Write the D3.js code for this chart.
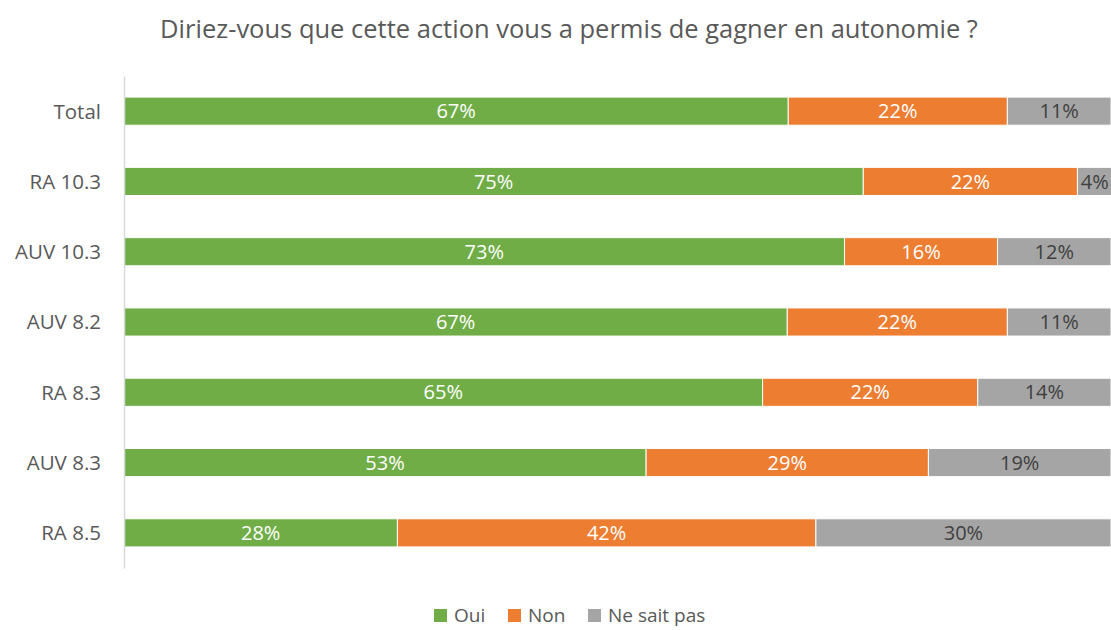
<!DOCTYPE html>
<html>
<head>
<meta charset="utf-8">
<script src="https://cdn.jsdelivr.net/npm/d3@7"></script>
<style>
  body { margin: 0; background: #fff; }
  svg text { font-family: "Open Sans", "DejaVu Sans", sans-serif; }
</style>
</head>
<body>
<div id="chart"></div>
<script>
const title = 'Diriez-vous que cette action vous a permis de gagner en autonomie ?';
const categories = ['Total', 'RA 10.3', 'AUV 10.3', 'AUV 8.2', 'RA 8.3', 'AUV 8.3', 'RA 8.5'];
const seriesNames = ['Oui', 'Non', 'Ne sait pas'];
const oui = [67.3, 74.9, 73.0, 67.2, 64.7, 52.9, 27.7];
const non = [22.2, 21.7, 15.5, 22.3, 21.8, 28.6, 42.4];
const nsp = [10.5, 3.5, 11.5, 10.5, 13.5, 18.5, 29.9];
const values = [oui, non, nsp];

const colors = ['#70ad47', '#ed7d31', '#a5a5a5'];
const labelColors = ['#ffffff', '#ffffff', '#404040'];

const width = 1111;
const height = 630;
const margin = {top: 76, right: 0, bottom: 62, left: 124};

const svg = d3.select('#chart').append('svg')
  .attr('width', width)
  .attr('height', height);

// rows as objects for the stack
const rows = categories.map((c, i) => ({cat: c, idx: i, 'Oui': oui[i], 'Non': non[i], 'Ne sait pas': nsp[i]}));
const stacked = d3.stack().keys(seriesNames)(rows);

const x = d3.scaleLinear()
  .domain([0, 100])
  .range([margin.left, width - margin.right]);

const y = d3.scaleBand()
  .domain(categories)
  .range([margin.top, height - margin.bottom])
  .paddingInner(0.6)
  .paddingOuter(0.3);

// title
svg.append('text')
  .attr('x', 569)
  .attr('y', 38)
  .attr('text-anchor', 'middle')
  .attr('fill', '#595959')
  .style('font-size', '25.5px')
  .text(title);

// bars
const layer = svg.selectAll('g.layer')
  .data(stacked)
  .enter()
  .append('g')
  .attr('class', 'layer')
  .attr('fill', (d, i) => colors[i]);

layer.selectAll('rect')
  .data(d => d)
  .enter()
  .append('rect')
  .attr('x', d => x(d[0]))
  .attr('y', d => y(d.data.cat))
  .attr('width', d => x(d[1]) - x(d[0]))
  .attr('height', y.bandwidth())
  .attr('stroke', '#fff')
  .attr('stroke-width', 1);

// value labels
layer.each(function (s, si) {
  d3.select(this).selectAll('text')
    .data(s)
    .enter()
    .append('text')
    .attr('x', d => (x(d[0]) + x(d[1])) / 2)
    .attr('y', d => y(d.data.cat) + y.bandwidth() / 2)
    .attr('dy', '0.36em')
    .attr('text-anchor', 'middle')
    .attr('fill', labelColors[si])
    .style('font-size', '20px')
    .text(d => Math.round(values[si][d.data.idx]) + '%');
});

// category axis
const yAxis = svg.append('g')
  .attr('transform', `translate(${margin.left},0)`)
  .call(d3.axisLeft(y).tickSize(0).tickPadding(23));

yAxis.select('.domain')
  .attr('stroke', '#d9d9d9')
  .attr('stroke-width', 1.5);

yAxis.selectAll('text')
  .attr('fill', '#595959')
  .attr('dy', '0.36em')
  .style('font-size', '20.5px')
  .style('font-family', '"Open Sans", sans-serif');

// legend
const legendX = [434, 508, 588];
const legend = svg.append('g')
  .selectAll('g')
  .data(seriesNames)
  .enter()
  .append('g')
  .attr('transform', (d, i) => `translate(${legendX[i]}, 615)`);

legend.append('rect')
  .attr('x', 0)
  .attr('y', -6)
  .attr('width', 13)
  .attr('height', 13)
  .attr('fill', (d, i) => colors[i]);

legend.append('text')
  .attr('x', 20)
  .attr('y', 1)
  .attr('dy', '0.34em')
  .attr('fill', '#595959')
  .style('font-size', '19px')
  .text(d => d);
</script>
</body>
</html>
